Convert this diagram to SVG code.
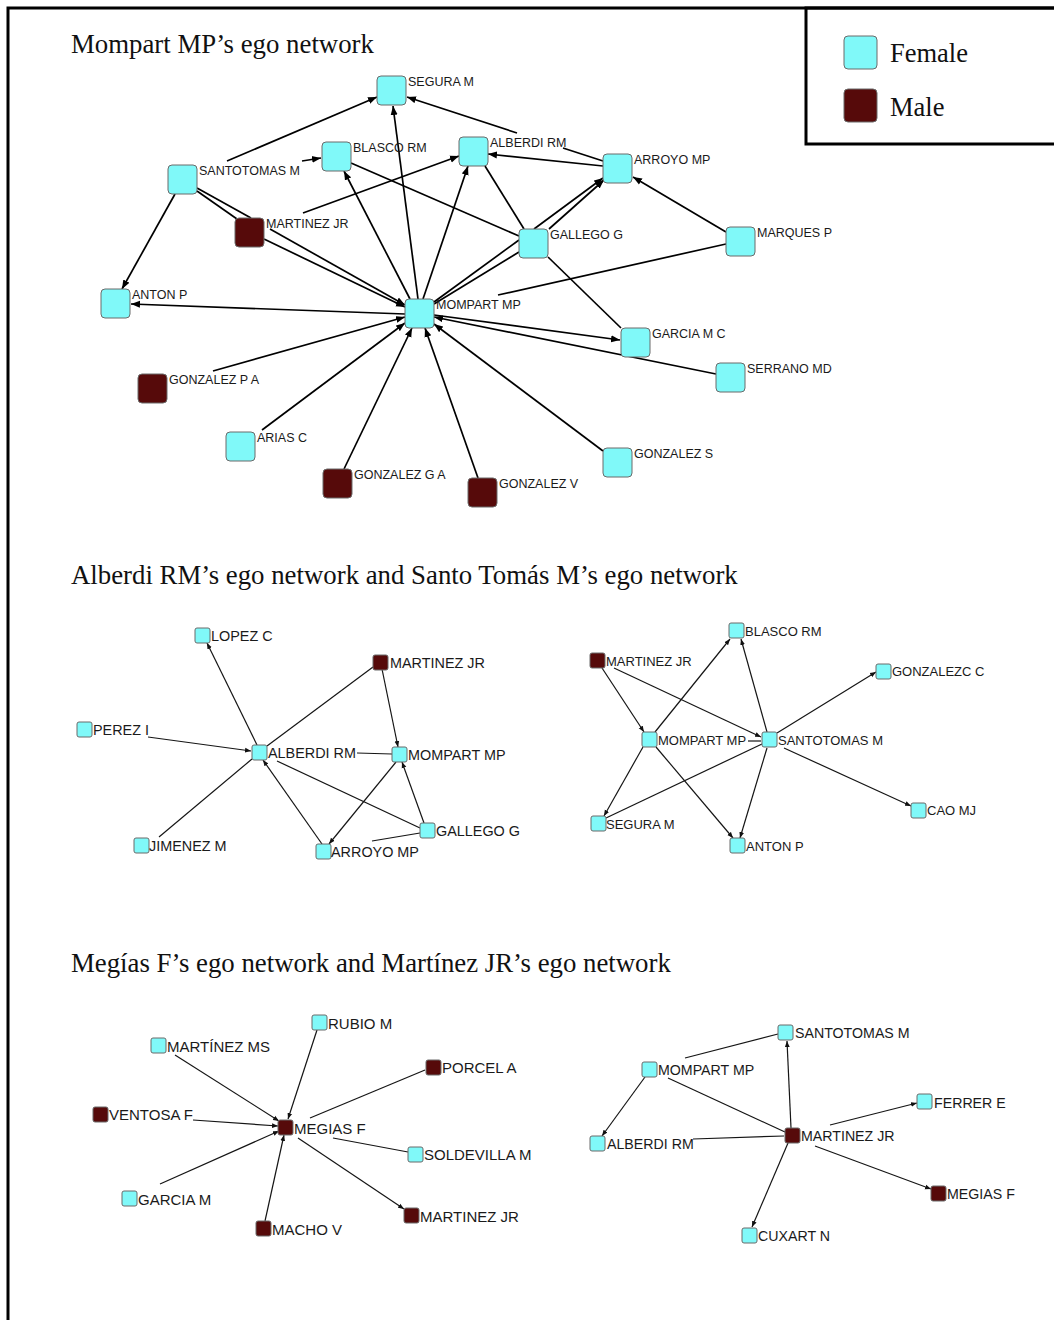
<svg xmlns="http://www.w3.org/2000/svg" width="1054" height="1320" viewBox="0 0 1054 1320">
<style>
.bg{fill:#fff}
.frame{fill:none;stroke:#000;stroke-width:3}
.title{font-family:"Liberation Serif","Times New Roman",serif;font-size:26.8px;fill:#111}
.leg{font-family:"Liberation Serif","Times New Roman",serif;font-size:26.5px;fill:#111}
.f{fill:#80f9f9;stroke:#6b6b6b;stroke-width:1}
.m{fill:#560a0a;stroke:#6b6b6b;stroke-width:1}
.l1{font-family:"Liberation Sans",Arial,sans-serif;font-size:12.5px;fill:#1a1a1a}
.l2{font-family:"Liberation Sans",Arial,sans-serif;font-size:14.4px;fill:#1a1a1a}
.l3{font-family:"Liberation Sans",Arial,sans-serif;font-size:13px;fill:#1a1a1a}
.l4{font-family:"Liberation Sans",Arial,sans-serif;font-size:15px;fill:#1a1a1a}
.l5{font-family:"Liberation Sans",Arial,sans-serif;font-size:14.2px;fill:#1a1a1a}
.e1 line{stroke:#000;stroke-width:1.7;fill:none}
.e2 line{stroke:#151515;stroke-width:1.2;fill:none}
.a1{marker-end:url(#arr1)}
.a2{marker-end:url(#arr2)}
</style>
<defs>
<marker id="arr1" markerUnits="userSpaceOnUse" markerWidth="10" markerHeight="8" refX="9" refY="4" orient="auto"><path d="M0,0.5 L9,4 L0,7.5 z" fill="#000"/></marker>
<marker id="arr2" markerUnits="userSpaceOnUse" markerWidth="7" markerHeight="6" refX="6" refY="3" orient="auto"><path d="M0,0.6 L6,3 L0,5.4 z" fill="#111"/></marker>
</defs>
<rect class="bg" x="0" y="0" width="1054" height="1320"/>
<rect class="frame" x="8" y="8" width="1060" height="1330"/>
<g id="legend">
<rect class="frame" x="806" y="8" width="260" height="136"/>
<rect class="f" x="844" y="36" width="33" height="33" rx="4"/>
<text class="leg" x="890" y="62">Female</text>
<rect class="m" x="844" y="89" width="33" height="33" rx="4"/>
<text class="leg" x="890" y="116">Male</text>
</g>
<text class="title" x="71" y="53">Mompart MP’s ego network</text>
<text class="title" x="71" y="584">Alberdi RM’s ego network and Santo Tomás M’s ego network</text>
<text class="title" x="71" y="972">Megías F’s ego network and Martínez JR’s ego network</text>

<g id="edges-mompart" class="e1">
<line class="a1" x1="227" y1="161" x2="377" y2="97"/>
<line class="a1" x1="517" y1="133" x2="407" y2="97"/>
<line x1="563" y1="148" x2="603" y2="161"/>
<line class="a1" x1="418" y1="299" x2="393" y2="106"/>
<line class="a1" x1="302" y1="161" x2="321" y2="158"/>
<line class="a1" x1="175" y1="194" x2="122" y2="289"/>
<line x1="197" y1="188" x2="251" y2="218"/>
<line class="a1" x1="270" y1="229" x2="405" y2="305"/>
<line x1="197" y1="191" x2="237" y2="219"/>
<line class="a1" x1="264" y1="239" x2="405" y2="307"/>
<line class="a1" x1="303" y1="213" x2="459" y2="156"/>
<line x1="351" y1="163" x2="519" y2="236"/>
<line class="a1" x1="410" y1="299" x2="344" y2="171"/>
<line class="a1" x1="423" y1="299" x2="468" y2="166"/>
<line x1="524" y1="229" x2="485" y2="166"/>
<line class="a1" x1="603" y1="166" x2="488" y2="154"/>
<line class="a1" x1="549" y1="229" x2="604" y2="180"/>
<line x1="434" y1="302" x2="519" y2="240"/>
<line class="a1" x1="534" y1="229" x2="603" y2="178"/>
<line x1="434" y1="304" x2="519" y2="252"/>
<line class="a1" x1="726" y1="232" x2="633" y2="177"/>
<line x1="726" y1="244" x2="498" y2="295"/>
<line x1="548" y1="257" x2="621" y2="328"/>
<line class="a1" x1="434" y1="315" x2="620" y2="340"/>
<line class="a1" x1="716" y1="374" x2="434" y2="317"/>
<line class="a1" x1="405" y1="314" x2="131" y2="304"/>
<line class="a1" x1="213" y1="371" x2="405" y2="317"/>
<line class="a1" x1="262" y1="430" x2="405" y2="323"/>
<line class="a1" x1="344" y1="469" x2="412" y2="328"/>
<line class="a1" x1="478" y1="478" x2="425" y2="328"/>
<line class="a1" x1="603" y1="451" x2="434" y2="324"/>
</g>

<g id="n-segura-m"><rect class="f" x="377" y="76" width="29" height="29" rx="4"/><text class="l1" x="408" y="86">SEGURA M</text></g>
<g id="n-santotomas-m"><rect class="f" x="168" y="165" width="29" height="29" rx="4"/><text class="l1" x="199" y="175">SANTOTOMAS M</text></g>
<g id="n-blasco-rm"><rect class="f" x="322" y="142" width="29" height="29" rx="4"/><text class="l1" x="353" y="152">BLASCO RM</text></g>
<g id="n-martinez-jr"><rect class="m" x="235" y="218" width="29" height="29" rx="4"/><text class="l1" x="266" y="228">MARTINEZ JR</text></g>
<g id="n-anton-p"><rect class="f" x="101" y="289" width="29" height="29" rx="4"/><text class="l1" x="132" y="299">ANTON P</text></g>
<g id="n-mompart-mp"><rect class="f" x="405" y="299" width="29" height="29" rx="4"/><text class="l1" x="436" y="309">MOMPART MP</text></g>
<g id="n-alberdi-rm"><rect class="f" x="459" y="137" width="29" height="29" rx="4"/><text class="l1" x="490" y="147">ALBERDI RM</text></g>
<g id="n-arroyo-mp"><rect class="f" x="603" y="154" width="29" height="29" rx="4"/><text class="l1" x="634" y="164">ARROYO MP</text></g>
<g id="n-gallego-g"><rect class="f" x="519" y="229" width="29" height="29" rx="4"/><text class="l1" x="550" y="239">GALLEGO G</text></g>
<g id="n-marques-p"><rect class="f" x="726" y="227" width="29" height="29" rx="4"/><text class="l1" x="757" y="237">MARQUES P</text></g>
<g id="n-garcia-m-c"><rect class="f" x="621" y="328" width="29" height="29" rx="4"/><text class="l1" x="652" y="338">GARCIA M C</text></g>
<g id="n-serrano-md"><rect class="f" x="716" y="363" width="29" height="29" rx="4"/><text class="l1" x="747" y="373">SERRANO MD</text></g>
<g id="n-gonzalez-p-a"><rect class="m" x="138" y="374" width="29" height="29" rx="4"/><text class="l1" x="169" y="384">GONZALEZ P A</text></g>
<g id="n-arias-c"><rect class="f" x="226" y="432" width="29" height="29" rx="4"/><text class="l1" x="257" y="442">ARIAS C</text></g>
<g id="n-gonzalez-g-a"><rect class="m" x="323" y="469" width="29" height="29" rx="4"/><text class="l1" x="354" y="479">GONZALEZ G A</text></g>
<g id="n-gonzalez-v"><rect class="m" x="468" y="478" width="29" height="29" rx="4"/><text class="l1" x="499" y="488">GONZALEZ V</text></g>
<g id="n-gonzalez-s"><rect class="f" x="603" y="448" width="29" height="29" rx="4"/><text class="l1" x="634" y="458">GONZALEZ S</text></g>

<g id="edges-alberdi" class="e2">
<line class="a2" x1="257" y1="745" x2="207" y2="643"/>
<line class="a2" x1="148" y1="737" x2="251" y2="751"/>
<line x1="159" y1="837" x2="252" y2="759"/>
<line x1="373" y1="667" x2="267" y2="746"/>
<line class="a2" x1="382" y1="669" x2="398" y2="747"/>
<line x1="357" y1="753" x2="392" y2="754"/>
<line x1="277" y1="761" x2="420" y2="828"/>
<line class="a2" x1="322" y1="844" x2="263" y2="760"/>
<line class="a2" x1="424" y1="823" x2="402" y2="762"/>
<line class="a2" x1="396" y1="762" x2="329" y2="844"/>
<line x1="420" y1="833" x2="372" y2="841"/>
</g>
<g id="a-lopez-c"><rect class="f" x="195" y="628" width="15" height="15" rx="2"/><text class="l2" x="211" y="641">LOPEZ C</text></g>
<g id="a-martinez-jr"><rect class="m" x="373" y="655" width="15" height="15" rx="2"/><text class="l2" x="390" y="668">MARTINEZ JR</text></g>
<g id="a-perez-i"><rect class="f" x="77" y="722" width="15" height="15" rx="2"/><text class="l2" x="93" y="735">PEREZ I</text></g>
<g id="a-alberdi-rm"><rect class="f" x="252" y="745" width="15" height="15" rx="2"/><text class="l2" x="268" y="758">ALBERDI RM</text></g>
<g id="a-mompart-mp"><rect class="f" x="392" y="747" width="15" height="15" rx="2"/><text class="l2" x="408" y="760">MOMPART MP</text></g>
<g id="a-jimenez-m"><rect class="f" x="134" y="838" width="15" height="15" rx="2"/><text class="l2" x="149" y="851">JIMENEZ M</text></g>
<g id="a-arroyo-mp"><rect class="f" x="316" y="844" width="15" height="15" rx="2"/><text class="l2" x="331" y="857">ARROYO MP</text></g>
<g id="a-gallego-g"><rect class="f" x="420" y="823" width="15" height="15" rx="2"/><text class="l2" x="436" y="836">GALLEGO G</text></g>

<g id="edges-santotomas" class="e2">
<line class="a2" x1="602" y1="668" x2="644" y2="732"/>
<line class="a2" x1="614" y1="668" x2="761" y2="737"/>
<line class="a2" x1="655" y1="732" x2="730" y2="639"/>
<line class="a2" x1="767" y1="732" x2="741" y2="639"/>
<line class="a2" x1="777" y1="733" x2="876" y2="672"/>
<line x1="748" y1="741" x2="761" y2="741"/>
<line x1="762" y1="744" x2="606" y2="818"/>
<line class="a2" x1="643" y1="747" x2="604" y2="816"/>
<line class="a2" x1="656" y1="747" x2="733" y2="838"/>
<line class="a2" x1="767" y1="748" x2="740" y2="838"/>
<line class="a2" x1="784" y1="748" x2="911" y2="806"/>
</g>
<g id="b-blasco-rm"><rect class="f" x="729" y="623" width="15" height="15" rx="2"/><text class="l3" x="745" y="636">BLASCO RM</text></g>
<g id="b-martinez-jr"><rect class="m" x="590" y="653" width="15" height="15" rx="2"/><text class="l3" x="606" y="666">MARTINEZ JR</text></g>
<g id="b-gonzalezc-c"><rect class="f" x="876" y="664" width="15" height="15" rx="2"/><text class="l3" x="892" y="676">GONZALEZC C</text></g>
<g id="b-mompart-mp"><rect class="f" x="642" y="732" width="15" height="15" rx="2"/><text class="l3" x="658" y="745">MOMPART MP</text></g>
<g id="b-santotomas-m"><rect class="f" x="762" y="732" width="15" height="15" rx="2"/><text class="l3" x="778" y="745">SANTOTOMAS M</text></g>
<g id="b-cao-mj"><rect class="f" x="911" y="803" width="15" height="15" rx="2"/><text class="l3" x="927" y="815">CAO MJ</text></g>
<g id="b-segura-m"><rect class="f" x="591" y="816" width="15" height="15" rx="2"/><text class="l3" x="606" y="829">SEGURA M</text></g>
<g id="b-anton-p"><rect class="f" x="730" y="838" width="15" height="15" rx="2"/><text class="l3" x="746" y="851">ANTON P</text></g>

<g id="edges-megias" class="e2">
<line class="a2" x1="317" y1="1030" x2="288" y2="1119"/>
<line class="a2" x1="175" y1="1055" x2="279" y2="1121"/>
<line x1="425" y1="1070" x2="310" y2="1118"/>
<line class="a2" x1="193" y1="1120" x2="278" y2="1126"/>
<line class="a2" x1="160" y1="1184" x2="279" y2="1131"/>
<line class="a2" x1="265" y1="1221" x2="284" y2="1135"/>
<line x1="408" y1="1152" x2="333" y2="1138"/>
<line class="a2" x1="298" y1="1138" x2="404" y2="1209"/>
</g>
<g id="c-rubio-m"><rect class="f" x="312" y="1015" width="15" height="15" rx="2"/><text class="l4" x="328" y="1029">RUBIO M</text></g>
<g id="c-martinez-ms"><rect class="f" x="151" y="1038" width="15" height="15" rx="2"/><text class="l4" x="167" y="1052">MARTÍNEZ MS</text></g>
<g id="c-porcel-a"><rect class="m" x="426" y="1060" width="15" height="15" rx="2"/><text class="l4" x="442" y="1073">PORCEL A</text></g>
<g id="c-ventosa-f"><rect class="m" x="93" y="1107" width="15" height="15" rx="2"/><text class="l4" x="109" y="1120">VENTOSA F</text></g>
<g id="c-megias-f"><rect class="m" x="278" y="1120" width="15" height="15" rx="2"/><text class="l4" x="294" y="1134">MEGIAS F</text></g>
<g id="c-soldevilla-m"><rect class="f" x="408" y="1147" width="15" height="15" rx="2"/><text class="l4" x="424" y="1160">SOLDEVILLA M</text></g>
<g id="c-garcia-m"><rect class="f" x="122" y="1191" width="15" height="15" rx="2"/><text class="l4" x="138" y="1205">GARCIA M</text></g>
<g id="c-martinez-jr"><rect class="m" x="404" y="1208" width="15" height="15" rx="2"/><text class="l4" x="420" y="1222">MARTINEZ JR</text></g>
<g id="c-macho-v"><rect class="m" x="256" y="1221" width="15" height="15" rx="2"/><text class="l4" x="272" y="1235">MACHO V</text></g>

<g id="edges-martinez" class="e2">
<line x1="685" y1="1058" x2="778" y2="1034"/>
<line class="a2" x1="791" y1="1128" x2="787" y2="1041"/>
<line class="a2" x1="645" y1="1077" x2="602" y2="1136"/>
<line x1="668" y1="1078" x2="785" y2="1132"/>
<line x1="693" y1="1139" x2="784" y2="1136"/>
<line class="a2" x1="830" y1="1125" x2="917" y2="1103"/>
<line class="a2" x1="815" y1="1146" x2="931" y2="1189"/>
<line class="a2" x1="788" y1="1143" x2="752" y2="1227"/>
</g>
<g id="d-santotomas-m"><rect class="f" x="778" y="1025" width="15" height="15" rx="2"/><text class="l5" x="795" y="1038">SANTOTOMAS M</text></g>
<g id="d-mompart-mp"><rect class="f" x="642" y="1062" width="15" height="15" rx="2"/><text class="l5" x="658" y="1075">MOMPART MP</text></g>
<g id="d-ferrer-e"><rect class="f" x="917" y="1094" width="15" height="15" rx="2"/><text class="l5" x="934" y="1108">FERRER E</text></g>
<g id="d-alberdi-rm"><rect class="f" x="590" y="1136" width="15" height="15" rx="2"/><text class="l5" x="607" y="1149">ALBERDI RM</text></g>
<g id="d-martinez-jr"><rect class="m" x="785" y="1128" width="15" height="15" rx="2"/><text class="l5" x="801" y="1141">MARTINEZ JR</text></g>
<g id="d-megias-f"><rect class="m" x="931" y="1186" width="15" height="15" rx="2"/><text class="l5" x="947" y="1199">MEGIAS F</text></g>
<g id="d-cuxart-n"><rect class="f" x="742" y="1228" width="15" height="15" rx="2"/><text class="l5" x="758" y="1241">CUXART N</text></g>
</svg>
